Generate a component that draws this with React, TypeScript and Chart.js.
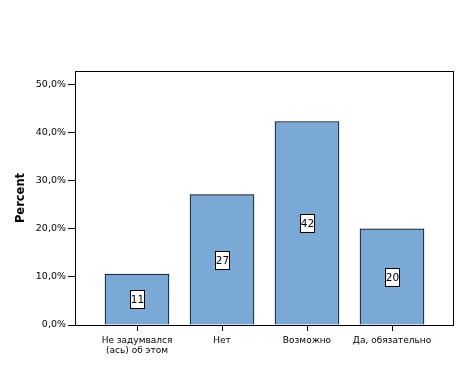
import { useEffect, useRef } from "react";
import { Chart, registerables } from "chart.js";

Chart.register(...registerables);

const categories: (string | string[])[] = [
  ["Не задумвался", "(ась) об этом"],
  "Нет",
  "Возможно",
  "Да, обязательно",
];
const percents = [10.6, 27.1, 42.3, 20.0];
const barLabels = ["11", "27", "42", "20"];
const yTicks = [0, 10, 20, 30, 40, 50];

const framePlugin = {
  id: "frame",
  afterDraw(chart: any) {
    const { ctx, chartArea: a } = chart;
    ctx.save();
    ctx.strokeStyle = "#000";
    ctx.lineWidth = 1;
    const l = Math.floor(a.left) + 0.5;
    const t = Math.floor(a.top) + 0.5;
    const r = Math.floor(a.right) + 0.5;
    const b = Math.floor(a.bottom) + 0.5;
    ctx.strokeRect(l, t, r - l, b - t);
    ctx.restore();
  },
};

const labelPlugin = {
  id: "barLabels",
  afterDatasetsDraw(chart: any) {
    const meta = chart.getDatasetMeta(0);
    const ctx = chart.ctx;
    ctx.save();
    ctx.font = "10.5px 'DejaVu Sans'";
    ctx.textAlign = "center";
    ctx.textBaseline = "middle";
    meta.data.forEach((el: any, i: number) => {
      const { x, y, base } = el.getProps(["x", "y", "base"], true);
      const cy = (y + base) / 2;
      const text = barLabels[i];
      const w = Math.round(ctx.measureText(text).width + 1);
      const h = 18;
      const bx = Math.round(x - w / 2) + 0.5;
      const by = Math.round(cy - h / 2) + 0.5;
      ctx.fillStyle = "#fff";
      ctx.fillRect(bx, by, w, h);
      ctx.strokeStyle = "#000";
      ctx.lineWidth = 1;
      ctx.strokeRect(bx, by, w, h);
      ctx.fillStyle = "#000";
      ctx.fillText(text, bx + w / 2, by + h / 2 + 0.5);
    });
    ctx.restore();
  },
};

export default function App() {
  const ref = useRef<HTMLCanvasElement | null>(null);
  useEffect(() => {
    if (!ref.current) return;
    const chart = new Chart(ref.current, {
      type: "bar",
      data: {
        datasets: [
          {
            data: percents.map((p, i) => ({ x: i, y: p })),
            backgroundColor: "#7aa9d6",
            borderColor: "#000",
            borderWidth: 1,
            barThickness: 64,
          },
        ],
      },
      options: {
        animation: false,
        responsive: true,
        maintainAspectRatio: false,
        layout: { padding: { top: 71, right: 8.5, left: 0, bottom: 0 } },
        plugins: { legend: { display: false }, tooltip: { enabled: false } },
        scales: {
          x: {
            type: "linear",
            offset: false,
            min: -0.729412,
            max: 3.723529,
            afterBuildTicks: (axis: any) => {
              axis.ticks = categories.map((_, i) => ({ value: i }));
            },
            afterFit: (axis: any) => {
              axis.height = 44;
            },
            grid: { offset: false, drawOnChartArea: false, drawTicks: true, tickLength: 6, color: "#000" },
            border: { display: false },
            ticks: {
              callback: (v: any) => categories[v as number],
              font: { family: "DejaVu Sans", size: 9, lineHeight: 1.15 },
              color: "#000",
              padding: 4,
              maxRotation: 0,
              autoSkip: false,
            },
          },
          y: {
            min: 0,
            max: 52.8,
            afterBuildTicks: (axis: any) => {
              axis.ticks = yTicks.map((v) => ({ value: v }));
            },
            afterFit: (axis: any) => {
              axis.width = 75;
            },
            grid: { drawOnChartArea: false, drawTicks: true, tickLength: 7, color: "#000" },
            border: { display: false },
            ticks: {
              callback: (v: any) => Number(v).toFixed(1).replace(".", ",") + "%",
              font: { family: "DejaVu Sans", size: 9.5 },
              color: "#000",
              padding: 2,
            },
            title: {
              display: true,
              text: "Percent",
              color: "#000",
              font: { family: "DejaVu Sans", size: 11.5, weight: "bold" },
              padding: { top: 14, bottom: 0 },
            },
          },
        },
      },
      plugins: [labelPlugin, framePlugin],
    } as any);
    return () => chart.destroy();
  }, []);
  return (
    <div style={{ position: "absolute", left: 0, top: 0, width: 462, height: 369 }}>
      <canvas ref={ref} />
    </div>
  );
}
